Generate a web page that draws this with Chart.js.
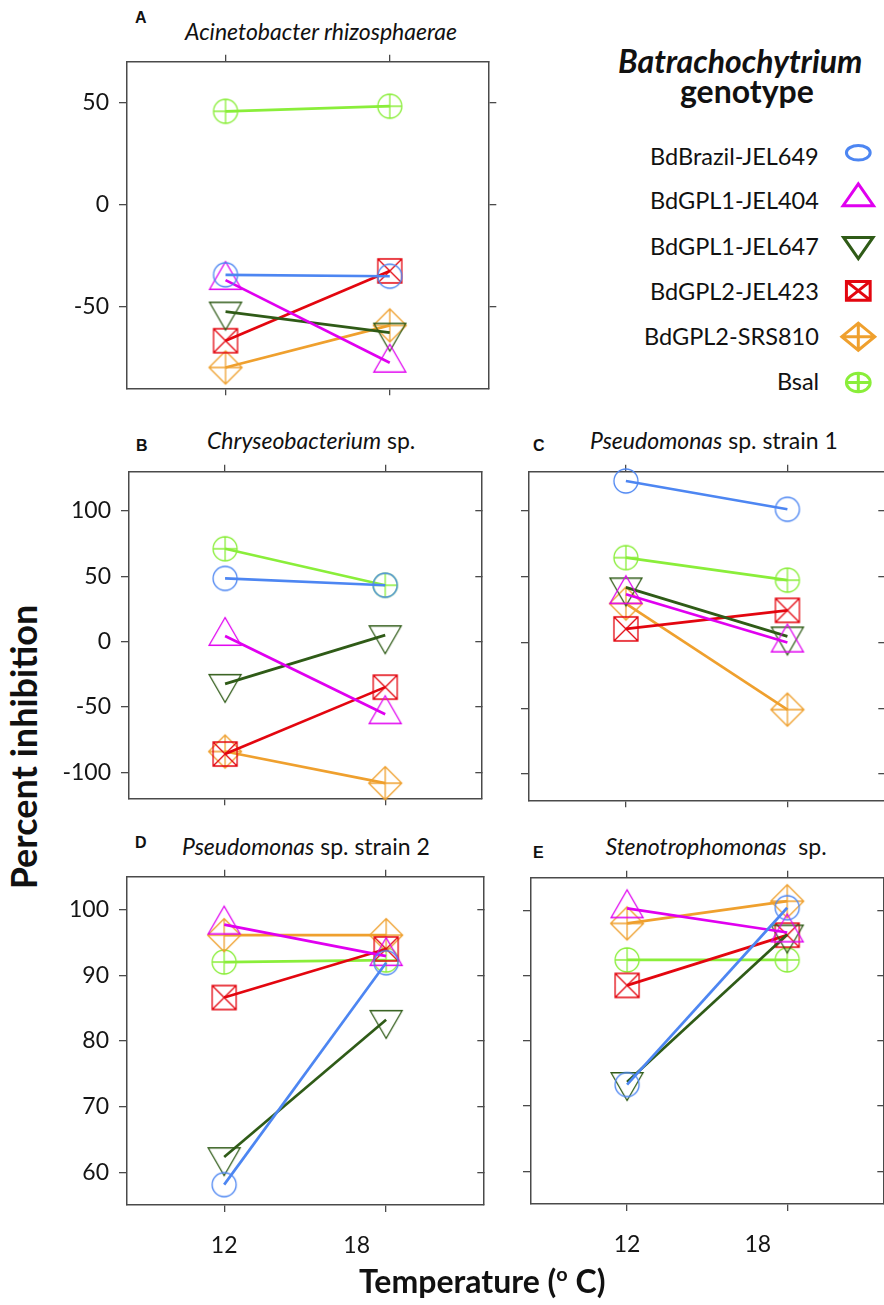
<!DOCTYPE html>
<html><head><meta charset="utf-8">
<script src="https://cdn.jsdelivr.net/npm/chart.js@4.4.1/dist/chart.umd.min.js"></script>
<style>
html,body{margin:0;padding:0;background:#fff;overflow:hidden;width:884px;height:1305px;}
#root{position:relative;width:884px;height:1305px;overflow:hidden;}
canvas{position:absolute;}
.t{position:absolute;white-space:pre;color:#111;line-height:normal;}
</style></head><body><div id="root"></div>
<script>
// ---------- data ----------
const temperatures = [12, 18];
const xTickLabels = ['12', '18'];
const genotypes = ['BdBrazil-JEL649', 'BdGPL1-JEL404', 'BdGPL1-JEL647', 'BdGPL2-JEL423', 'BdGPL2-SRS810', 'Bsal'];
const genotypeColors = ['#4d86f2', '#e000f0', '#2f5b17', '#e3060f', '#efa02e', '#8aee3a'];
const markerKinds = ['circle', 'triUp', 'triDown', 'squareX', 'diamondPlus', 'circlePlus'];

const panelLetters = ['A', 'B', 'C', 'D', 'E'];
const panelGenus = ['Acinetobacter rhizosphaerae', 'Chryseobacterium', 'Pseudomonas', 'Pseudomonas', 'Stenotrophomonas'];
const panelSuffix = ['', ' sp.', ' sp. strain 1', ' sp. strain 2', '  sp.'];

// values per genotype (rows, order as genotypes) at 12 and 18 °C
const valuesA = [[-34.4, -35.1], [-37.0, -77.5], [-52.4, -62.7], [-66.7, -32.5], [-79.8, -59.2], [45.7, 48.2]];
const valuesB = [[48.3, 43.1], [4.2, -55.7], [-32.4, 4.9], [-86.1, -34.9], [-84.2, -108.4], [71.0, 43.1]];
const valuesC = [[122.9, 101.4], [36.8, 0.0], [42.0, 4.7], [10.4, 24.5], [29.7, -51.0], [64.6, 47.5]];
const valuesD = [[58.1, 91.9], [97.7, 92.9], [62.3, 83.2], [86.6, 94.0], [96.1, 96.1], [92.0, 92.3]];
const valuesE = [[73.3, 100.4], [100.3, 96.6], [73.7, 96.3], [88.5, 96.2], [98.0, 101.4], [92.4, 92.4]];

const yTicksA = [-50, 0, 50];
const yTicksBC = [-100, -50, 0, 50, 100];
const yTicksDE = [60, 70, 80, 90, 100];

// ---------- layout ----------
const root = document.getElementById('root');
const axisColor = '#4a4a4a';
const textColor = '#151515';
const xMin = 8.4, xMax = 21.6;

const panels = [
  {l:127, t:57,  r:491, b:393,  yMin:-90,  yMax:70,  yTicks:yTicksA,  values:valuesA, yLabels:true,  xLabels:false, rightTick:8},
  {l:129, t:467, r:484, b:803,  yMin:-120, yMax:130, yTicks:yTicksBC, values:valuesB, yLabels:true,  xLabels:false, rightTick:-6},
  {l:529, t:467, r:887, b:805,  yMin:-120, yMax:130, yTicks:yTicksBC, values:valuesC, yLabels:false, xLabels:false, rightTick:-6},
  {l:127, t:872, r:486, b:1205, yMin:55,   yMax:105, yTicks:yTicksDE, values:valuesD, yLabels:true,  xLabels:true,  rightTick:-6},
  {l:531, t:873, r:886, b:1204, yMin:55,   yMax:105, yTicks:yTicksDE, values:valuesE, yLabels:false, xLabels:true,  rightTick:-6}
];

// ---------- marker shapes ----------
function drawShape(g, kind, cx, cy, sx, sy) {
  g.beginPath();
  if (kind === 'circle' || kind === 'circlePlus') {
    g.ellipse(cx, cy, 12 * sx, 12 * sy, 0, 0, Math.PI * 2);
    if (kind === 'circlePlus') {
      g.moveTo(cx - 12 * sx, cy); g.lineTo(cx + 12 * sx, cy);
      g.moveTo(cx, cy - 12 * sy); g.lineTo(cx, cy + 12 * sy);
    }
  } else if (kind === 'triUp') {
    g.moveTo(cx, cy - 18.5 * sy); g.lineTo(cx + 16 * sx, cy + 9.25 * sy); g.lineTo(cx - 16 * sx, cy + 9.25 * sy); g.closePath();
  } else if (kind === 'triDown') {
    g.moveTo(cx, cy + 18.5 * sy); g.lineTo(cx + 16 * sx, cy - 9.25 * sy); g.lineTo(cx - 16 * sx, cy - 9.25 * sy); g.closePath();
  } else if (kind === 'squareX') {
    g.rect(cx - 12 * sx, cy - 12 * sy, 24 * sx, 24 * sy);
    g.moveTo(cx - 12 * sx, cy - 12 * sy); g.lineTo(cx + 12 * sx, cy + 12 * sy);
    g.moveTo(cx + 12 * sx, cy - 12 * sy); g.lineTo(cx - 12 * sx, cy + 12 * sy);
  } else if (kind === 'diamondPlus') {
    g.moveTo(cx, cy - 16.5 * sy); g.lineTo(cx + 16.5 * sx, cy); g.lineTo(cx, cy + 16.5 * sy); g.lineTo(cx - 16.5 * sx, cy); g.closePath();
    g.moveTo(cx - 16.5 * sx, cy); g.lineTo(cx + 16.5 * sx, cy);
    g.moveTo(cx, cy - 16.5 * sy); g.lineTo(cx, cy + 16.5 * sy);
  }
  g.stroke();
}
function makeMarker(kind, color) {
  const S = 44, cv = document.createElement('canvas');
  cv.width = S; cv.height = S;
  const g = cv.getContext('2d');
  g.strokeStyle = color; g.lineWidth = 1.3;
  drawShape(g, kind, S / 2, S / 2, 1, 1);
  return cv;
}
const markers = markerKinds.map((k, i) => makeMarker(k, genotypeColors[i]));

// ---------- charts ----------
Chart.defaults.font.family = 'Lato';
const tickFont = {family: 'Lato', size: 23};
const NBSP = '\u00A0';

panels.forEach((p) => {
  const cv = document.createElement('canvas');
  const bottomH = p.xLabels ? 70 : 10;
  const W = p.r - p.l + 82, H = 10 + (p.b - p.t) + bottomH;
  cv.width = W; cv.height = H;
  cv.style.left = (p.l - 70) + 'px'; cv.style.top = (p.t - 10) + 'px';
  cv.style.width = W + 'px'; cv.style.height = H + 'px';
  root.appendChild(cv);

  const gridOpts = (len) => ({display: true, drawOnChartArea: false, drawTicks: true, tickLength: len, color: axisColor, lineWidth: 1.3});
  const borderOpts = {display: true, color: axisColor, width: 1.5};
  const xTicksBuild = (ax) => { ax.ticks = temperatures.map(v => ({value: v})); };
  const yTicksBuild = (ax) => { ax.ticks = p.yTicks.map(v => ({value: v})); };

  new Chart(cv, {
    type: 'line',
    data: {
      datasets: genotypes.map((name, i) => ({
        label: name,
        data: temperatures.map((t, j) => ({x: t, y: p.values[i][j]})),
        borderColor: genotypeColors[i],
        backgroundColor: 'transparent',
        borderWidth: 2.7,
        pointStyle: markers[i],
        pointRadius: 12,
        pointHoverRadius: 12,
        tension: 0,
        clip: false,
        xAxisID: 'x', yAxisID: 'y'
      }))
    },
    options: {
      responsive: false, maintainAspectRatio: false, animation: false, events: [],
      layout: {padding: 0},
      plugins: {legend: {display: false}, tooltip: {enabled: false}},
      scales: {
        x: {
          type: 'linear', position: 'bottom', min: xMin, max: xMax,
          afterBuildTicks: xTicksBuild,
          grid: gridOpts(7), border: borderOpts,
          ticks: {display: p.xLabels, padding: 20, color: textColor, font: tickFont, maxRotation: 0, autoSkip: false,
                  callback: (v, i) => xTickLabels[i] + (i === 1 ? NBSP.repeat(10) : '')},
          afterFit: (ax) => { ax.height = bottomH; ax.paddingLeft = 0; ax.paddingRight = 0; }
        },
        xTop: {
          type: 'linear', position: 'top', min: xMin, max: xMax,
          afterBuildTicks: xTicksBuild,
          grid: gridOpts(7), border: borderOpts, ticks: {display: false},
          afterFit: (ax) => { ax.height = 10; ax.paddingLeft = 0; ax.paddingRight = 0; }
        },
        y: {
          type: 'linear', position: 'left', min: p.yMin, max: p.yMax,
          afterBuildTicks: yTicksBuild,
          grid: gridOpts(8), border: borderOpts,
          ticks: {display: p.yLabels, padding: 10, color: textColor, font: tickFont, callback: (v) => String(v)},
          afterFit: (ax) => { ax.width = 70; ax.paddingTop = 0; ax.paddingBottom = 0; }
        },
        yRight: {
          type: 'linear', position: 'right', min: p.yMin, max: p.yMax,
          afterBuildTicks: yTicksBuild,
          grid: gridOpts(p.rightTick), border: borderOpts, ticks: {display: false},
          afterFit: (ax) => { ax.width = 12; ax.paddingTop = 0; ax.paddingBottom = 0; }
        }
      }
    }
  });
});

// ---------- text ----------
function addText(html, x, baseline, font, align) {
  const d = document.createElement('div');
  d.className = 't';
  d.style.font = font;
  d.innerHTML = html + '<span style="display:inline-block;width:0;height:0"></span>';
  root.appendChild(d);
  const b = d.lastChild.offsetTop;
  const w = d.offsetWidth;
  const left = align === 'center' ? x - w / 2 : align === 'right' ? x - w : x;
  d.style.left = left + 'px';
  d.style.top = (baseline - b) + 'px';
  return d;
}
function addRotated(html, baselineX, centerY, font) {
  const d = document.createElement('div');
  d.className = 't';
  d.style.font = font;
  d.innerHTML = html + '<span style="display:inline-block;width:0;height:0"></span>';
  root.appendChild(d);
  const b = d.lastChild.offsetTop, h = d.offsetHeight, w = d.offsetWidth;
  const cx = baselineX - (b - h / 2);
  d.style.left = (cx - w / 2) + 'px';
  d.style.top = (centerY - h / 2) + 'px';
  d.style.transformOrigin = '50% 50%';
  d.style.transform = 'rotate(-90deg)';
}

const letterPos = [[135, 23], [136, 451], [533, 451], [135, 848], [533, 858]];
const titlePos = [[321, 40], [311, 449], [714, 449], [306, 855], [716, 855]];
panelLetters.forEach((L, i) => {
  addText(L, letterPos[i][0], letterPos[i][1], 'bold 16px "Liberation Sans"', 'left');
  addText('<i>' + panelGenus[i] + '</i>' + panelSuffix[i], titlePos[i][0], titlePos[i][1], '23px Lato', 'center');
});

addRotated('Percent inhibition', 37, 747, 'bold 36px Lato');
addText('Temperature (<span style="font-size:0.62em;position:relative;top:-0.62em">o</span> C)', 482, 1293, 'bold 32px Lato', 'center');

// legend
addText('<i>Batrachochytrium</i>', 740, 73, 'bold 32px Lato', 'center');
addText('genotype', 747, 103, 'bold 32px Lato', 'center');
const legendBaselines = [165, 209, 255, 300, 345, 390];
genotypes.forEach((g, i) => addText(g, 819, legendBaselines[i], '23.5px Lato', 'right'));

const lg = document.createElement('canvas');
lg.width = 64; lg.height = 290;
lg.style.left = '820px'; lg.style.top = '125px';
root.appendChild(lg);
const lctx = lg.getContext('2d');
lctx.lineWidth = 3;
lctx.lineJoin = 'miter';
const legendIconY = [152.8, 194.8, 248, 290.8, 336.7, 382.5];
const legendScale = [[0.99, 0.61], [0.95, 0.79], [0.92, 0.76], [0.99, 0.78], [1.0, 0.82], [0.99, 0.78]];
markerKinds.forEach((k, i) => {
  lctx.strokeStyle = genotypeColors[i];
  const [sx, sy] = legendScale[i];
  let cy = legendIconY[i] - 125;
  if (k === 'triUp') cy += 18.5 * sy / 4;
  if (k === 'triDown') cy -= 18.5 * sy / 4;
  drawShape(lctx, k, 858.3 - 820, cy, sx, sy);
});
</script></body></html>
